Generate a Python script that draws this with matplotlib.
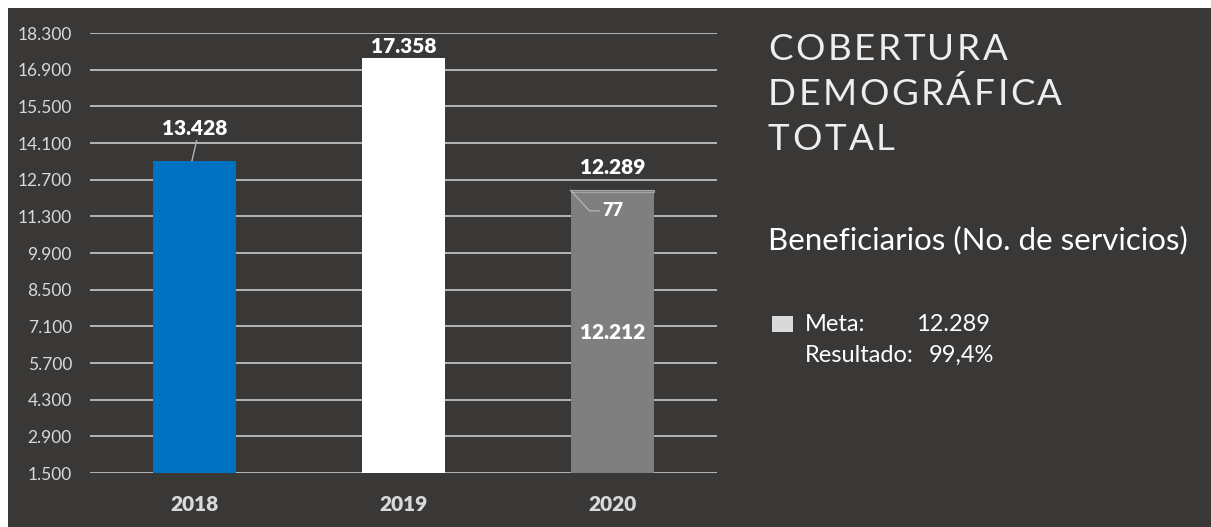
import matplotlib.pyplot as plt
import matplotlib.transforms as mtransforms
from matplotlib.patches import Rectangle

years = ["2018", "2019", "2020"]
values = [13428, 17358, None]
result_2020 = 12212
gap_2020 = 77
meta_2020 = 12289
bar_colors = ["#0070c0", "#ffffff", "#7f7f7f"]
yticks = list(range(1500, 18301, 1400))

BG = "#3a3836"
TXT = "#d9d9d9"
FONT = "Lato"

W, H = 1211, 527
fig = plt.figure(figsize=(W / 100, H / 100), dpi=100, facecolor="white")
px = mtransforms.IdentityTransform()

# dark panel (white margin left/top like the screenshot)
fig.patches.append(Rectangle((8 / W, 0), 1 - 8 / W, 1 - 8 / H, transform=fig.transFigure,
                             facecolor=BG, edgecolor="none", zorder=-5))

ax = fig.add_axes([90 / W, (H - 473) / H, (717 - 90) / W, (473 - 33) / H], zorder=2)
ax.set_facecolor("none")

x = list(range(len(years)))
bw = 0.40
ax.bar(x[0], values[0], width=bw, color=bar_colors[0], zorder=3)
ax.bar(x[1], values[1], width=bw, color=bar_colors[1], zorder=3)
ax.bar(x[2], result_2020, width=bw, color=bar_colors[2], zorder=3)
ax.bar(x[2], gap_2020, bottom=result_2020, width=bw, color=bar_colors[2],
       edgecolor="#a6a6a6", linewidth=0.8, zorder=3)

ax.set_ylim(yticks[0], yticks[-1])
ax.set_xlim(-0.5, 2.5)
ax.tick_params(axis="y", length=0, pad=13)
ax.tick_params(axis="x", length=0, pad=16)
ax.set_yticks(yticks)
ax.set_yticklabels([f"{v:,}".replace(",", ".") for v in yticks])
ax.set_xticks(x)
ax.set_xticklabels(years)
for t in ax.get_yticklabels():
    t.set(fontsize=12.5, color=TXT, family=FONT)
for t in ax.get_xticklabels():
    t.set(fontsize=15, color=TXT, family=FONT, fontweight="heavy")
for s in ax.spines.values():
    s.set_visible(False)
ax.yaxis.grid(True, color="#bfbfbf", linewidth=1.3, zorder=1)
ax.set_axisbelow(True)

lab = dict(color="white", fontsize=15, fontweight="heavy", family=FONT, ha="center")
lead = dict(color="#aab4c0", linewidth=1.0)

# 2018 label with leader line
ax.annotate(f"{values[0]:,}".replace(",", "."), xy=(x[0], values[0]), xytext=(0, 16),
            textcoords="offset points", va="bottom", **lab)
ax.plot([x[0] + 0.01, x[0] - 0.012], [values[0] + 760, values[0]], zorder=4, **lead)
# 2019
ax.annotate(f"{values[1]:,}".replace(",", "."), xy=(x[1], values[1]), xytext=(0, 1),
            textcoords="offset points", va="bottom", **lab)
# 2020 total
ax.annotate(f"{meta_2020:,}".replace(",", "."), xy=(x[2], meta_2020), xytext=(0, 10),
            textcoords="offset points", va="bottom", **lab)
# 2020 inside value
ax.text(x[2], (yticks[0] + result_2020) / 2, f"{result_2020:,}".replace(",", "."),
        va="center", zorder=5, **lab)
# 77 with elbow leader
x0 = x[2] - bw / 2
ax.plot([x0, x0 + 0.09, x0 + 0.135], [meta_2020, meta_2020 - 780, meta_2020 - 780],
        zorder=4, **lead)
ax.text(x0 + 0.15, meta_2020 - 780, str(gap_2020), color="white", fontsize=13,
        fontweight="heavy", family=FONT, ha="left", va="center", zorder=5)

# title with letter spacing
renderer = fig.canvas.get_renderer()


def spaced(s, x0, y0, spacing, **kw):
    xx = x0
    for ch in s:
        t = fig.text(xx, y0, ch, transform=px, **kw)
        xx += t.get_window_extent(renderer).width + spacing


tkw = dict(color="#eeeeee", fontsize=26.5, family=FONT, fontweight="normal", va="baseline")
for i, line in enumerate(["COBERTURA", "DEMOGRÁFICA", "TOTAL"]):
    spaced(line, 768, H - 60 - i * 45, 2.6, **tkw)

fig.text(768, H - 249, "Beneficiarios (No. de servicios)", transform=px, color="white",
         fontsize=22.5, family=FONT, va="baseline")

fig.patches.append(Rectangle((772, H - 332), 21, 16, transform=px, facecolor="#d9d9d9",
                             edgecolor="none", zorder=2))
fkw = dict(color="white", fontsize=17, family=FONT, va="baseline", transform=px)
fig.text(805, H - 331, "Meta:", **fkw)
fig.text(916, H - 331, f"{meta_2020:,}".replace(",", "."), **fkw)
fig.text(805, H - 362, "Resultado:", **fkw)
fig.text(929, H - 362, "99,4%", **fkw)

fig.savefig("out.png", dpi=100, facecolor="white")
